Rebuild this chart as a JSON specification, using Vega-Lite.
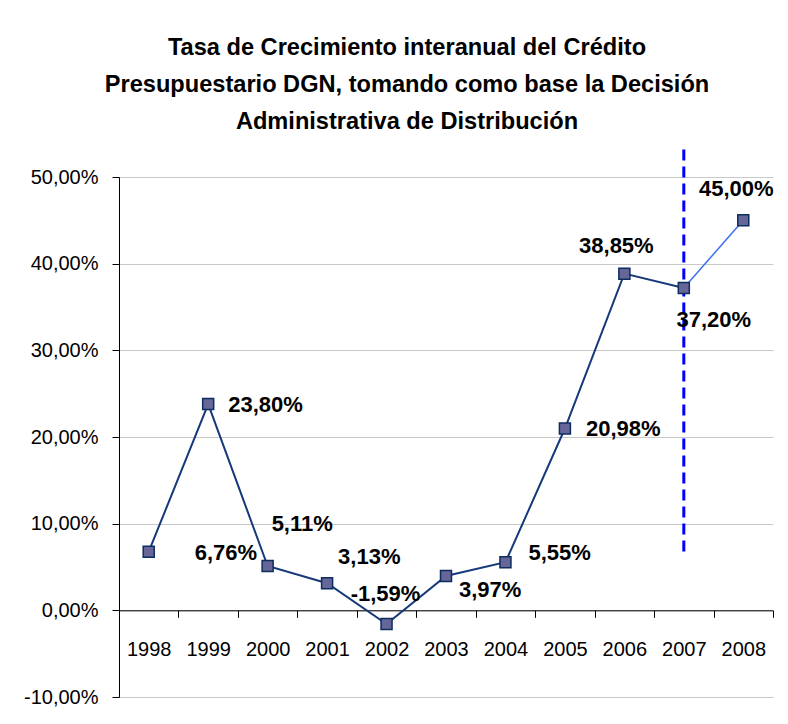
{
  "$schema": "https://vega.github.io/schema/vega-lite/v6.json",
  "width": 654,
  "height": 520,
  "autosize": {"type": "none"},
  "padding": {"left": 119, "top": 177, "right": 15, "bottom": 27},
  "background": "white",
  "title": {
    "text": ["Tasa de Crecimiento interanual del Crédito", "Presupuestario DGN, tomando como base la Decisión", "Administrativa de Distribución"],
    "font": "Liberation Sans",
    "fontSize": 23.6,
    "fontWeight": "bold",
    "color": "black",
    "lineHeight": 37,
    "anchor": "middle",
    "frame": "group",
    "dx": -39,
    "offset": 12
  },
  "datasets": {
    "rates": [
      {"year": "1998", "rate": 0.0676},
      {"year": "1999", "rate": 0.2380},
      {"year": "2000", "rate": 0.0511},
      {"year": "2001", "rate": 0.0313},
      {"year": "2002", "rate": -0.0159},
      {"year": "2003", "rate": 0.0397},
      {"year": "2004", "rate": 0.0555},
      {"year": "2005", "rate": 0.2098},
      {"year": "2006", "rate": 0.3885},
      {"year": "2007", "rate": 0.3720},
      {"year": "2008", "rate": 0.4500}
    ],
    "marker": [
      {"year": "2007", "from": 0.068, "to": 0.535}
    ]
  },
  "data": {"name": "rates"},
  "encoding": {
    "x": {
      "field": "year",
      "type": "ordinal",
      "scale": {"paddingInner": 0, "paddingOuter": 0},
      "axis": {
        "title": null,
        "labelAngle": 0,
        "labelFont": "Liberation Sans",
        "labelFontSize": 20,
        "labelColor": "black",
        "labelPadding": 22,
        "tickBand": "extent",
        "tickSize": 7,
        "tickColor": "black",
        "domainColor": "black",
        "offset": -86.67,
        "grid": false
      }
    }
  },
  "layer": [
    {
      "mark": {"type": "rule", "color": "#0000ff", "strokeWidth": 3, "strokeDash": [11, 6]},
      "data": {"name": "marker"},
      "encoding": {
        "y": {"field": "from", "type": "quantitative"},
        "y2": {"field": "to"}
      }
    },
    {
      "transform": [{"filter": "datum.year <= '2007'"}],
      "mark": {"type": "line", "color": "#16397a", "strokeWidth": 2},
      "encoding": {
        "y": {
          "field": "rate",
          "type": "quantitative",
          "scale": {"domain": [-0.1, 0.5], "nice": false, "zero": false},
          "axis": {
            "title": null,
            "values": [-0.1, 0, 0.1, 0.2, 0.3, 0.4, 0.5],
            "format": ".2%",
            "labelFont": "Liberation Sans",
            "labelFontSize": 20,
            "labelColor": "black",
            "labelPadding": 14,
            "tickSize": 7,
            "tickColor": "black",
            "domainColor": "black",
            "grid": true,
            "gridColor": "#c8c8c8",
            "gridWidth": 1
          }
        }
      }
    },
    {
      "transform": [{"filter": "datum.year >= '2007'"}],
      "mark": {"type": "line", "color": "#3d6ff0", "strokeWidth": 1.5},
      "encoding": {"y": {"field": "rate", "type": "quantitative"}}
    },
    {
      "mark": {"type": "point", "shape": "square", "filled": true, "fill": "#666699", "stroke": "#0c2d5e", "strokeWidth": 1.5, "size": 121, "opacity": 1},
      "encoding": {"y": {"field": "rate", "type": "quantitative"}}
    },
    {
      "transform": [{"filter": "datum.year == '1998'"}],
      "mark": {"type": "text", "font": "Liberation Sans", "fontSize": 22, "fontWeight": "bold", "color": "black", "align": "left", "baseline": "middle", "dx": 46, "dy": 1},
      "encoding": {"y": {"field": "rate", "type": "quantitative"}, "text": {"field": "rate", "type": "quantitative", "format": ".2%"}}
    },
    {
      "transform": [{"filter": "datum.year == '1999'"}],
      "mark": {"type": "text", "font": "Liberation Sans", "fontSize": 22, "fontWeight": "bold", "color": "black", "align": "left", "baseline": "middle", "dx": 20, "dy": 1},
      "encoding": {"y": {"field": "rate", "type": "quantitative"}, "text": {"field": "rate", "type": "quantitative", "format": ".2%"}}
    },
    {
      "transform": [{"filter": "datum.year == '2000'"}],
      "mark": {"type": "text", "font": "Liberation Sans", "fontSize": 22, "fontWeight": "bold", "color": "black", "align": "left", "baseline": "middle", "dx": 4, "dy": -42},
      "encoding": {"y": {"field": "rate", "type": "quantitative"}, "text": {"field": "rate", "type": "quantitative", "format": ".2%"}}
    },
    {
      "transform": [{"filter": "datum.year == '2001'"}],
      "mark": {"type": "text", "font": "Liberation Sans", "fontSize": 22, "fontWeight": "bold", "color": "black", "align": "left", "baseline": "middle", "dx": 11, "dy": -26},
      "encoding": {"y": {"field": "rate", "type": "quantitative"}, "text": {"field": "rate", "type": "quantitative", "format": ".2%"}}
    },
    {
      "transform": [{"filter": "datum.year == '2002'"}],
      "mark": {"type": "text", "font": "Liberation Sans", "fontSize": 22, "fontWeight": "bold", "color": "black", "align": "center", "baseline": "middle", "dx": -1, "dy": -30},
      "encoding": {"y": {"field": "rate", "type": "quantitative"}, "text": {"field": "rate", "type": "quantitative", "format": ".2%"}}
    },
    {
      "transform": [{"filter": "datum.year == '2003'"}],
      "mark": {"type": "text", "font": "Liberation Sans", "fontSize": 22, "fontWeight": "bold", "color": "black", "align": "left", "baseline": "middle", "dx": 13, "dy": 14},
      "encoding": {"y": {"field": "rate", "type": "quantitative"}, "text": {"field": "rate", "type": "quantitative", "format": ".2%"}}
    },
    {
      "transform": [{"filter": "datum.year == '2004'"}],
      "mark": {"type": "text", "font": "Liberation Sans", "fontSize": 22, "fontWeight": "bold", "color": "black", "align": "left", "baseline": "middle", "dx": 23, "dy": -9},
      "encoding": {"y": {"field": "rate", "type": "quantitative"}, "text": {"field": "rate", "type": "quantitative", "format": ".2%"}}
    },
    {
      "transform": [{"filter": "datum.year == '2005'"}],
      "mark": {"type": "text", "font": "Liberation Sans", "fontSize": 22, "fontWeight": "bold", "color": "black", "align": "left", "baseline": "middle", "dx": 21, "dy": 0},
      "encoding": {"y": {"field": "rate", "type": "quantitative"}, "text": {"field": "rate", "type": "quantitative", "format": ".2%"}}
    },
    {
      "transform": [{"filter": "datum.year == '2006'"}],
      "mark": {"type": "text", "font": "Liberation Sans", "fontSize": 22, "fontWeight": "bold", "color": "black", "align": "center", "baseline": "middle", "dx": -8, "dy": -28},
      "encoding": {"y": {"field": "rate", "type": "quantitative"}, "text": {"field": "rate", "type": "quantitative", "format": ".2%"}}
    },
    {
      "transform": [{"filter": "datum.year == '2007'"}],
      "mark": {"type": "text", "font": "Liberation Sans", "fontSize": 22, "fontWeight": "bold", "color": "black", "align": "center", "baseline": "middle", "dx": 30, "dy": 32},
      "encoding": {"y": {"field": "rate", "type": "quantitative"}, "text": {"field": "rate", "type": "quantitative", "format": ".2%"}}
    },
    {
      "transform": [{"filter": "datum.year == '2008'"}],
      "mark": {"type": "text", "font": "Liberation Sans", "fontSize": 22, "fontWeight": "bold", "color": "black", "align": "center", "baseline": "middle", "dx": -7, "dy": -31},
      "encoding": {"y": {"field": "rate", "type": "quantitative"}, "text": {"field": "rate", "type": "quantitative", "format": ".2%"}}
    }
  ],
  "config": {
    "view": {"stroke": null},
    "locale": {"number": {"decimal": ",", "thousands": ".", "grouping": [3], "currency": ["", " €"], "minus": "-"}}
  }
}
